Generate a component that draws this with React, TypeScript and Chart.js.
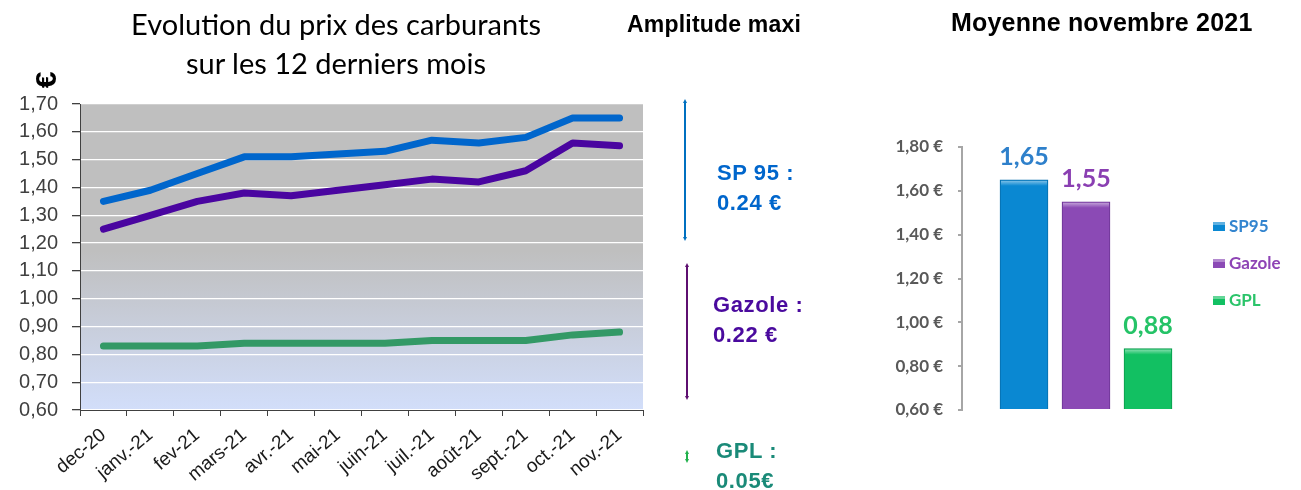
import React, { useEffect, useRef } from 'react';
import { Chart, registerables } from 'chart.js';

Chart.register(...registerables);

// ---------- Data: line chart ----------
const months = ['dec-20', 'janv.-21', 'fev-21', 'mars-21', 'avr.-21', 'mai-21', 'juin-21', 'juil.-21', 'août-21', 'sept.-21', 'oct.-21', 'nov.-21'];
const sp95 = [1.35, 1.39, 1.45, 1.51, 1.51, 1.52, 1.53, 1.57, 1.56, 1.58, 1.65, 1.65];
const gazole = [1.25, 1.30, 1.35, 1.38, 1.37, 1.39, 1.41, 1.43, 1.42, 1.46, 1.56, 1.55];
const gpl = [0.83, 0.83, 0.83, 0.84, 0.84, 0.84, 0.84, 0.85, 0.85, 0.85, 0.87, 0.88];
const lineMin = 0.6;
const lineMax = 1.7;
const lineStep = 0.1;

// ---------- Data: bar chart ----------
const barLabels = ['SP95', 'Gazole', 'GPL'];
const barValues = [1.65, 1.55, 0.88];
const barMin = 0.6;
const barMax = 1.8;
const barStep = 0.2;

// ---------- Amplitude annotations ----------
const ampNames = ['SP 95 :', 'Gazole :', 'GPL :'];
const ampValues = ['0.24 €', '0.22 €', '0.05€'];

const fmt = (v: number) => v.toFixed(2).replace('.', ',');

const plotBg = {
  id: 'plotBg',
  beforeDraw(chart: any) {
    const { ctx, chartArea: a } = chart;
    const g = ctx.createLinearGradient(0, a.top, 0, a.bottom);
    g.addColorStop(0, '#BFBFBF');
    g.addColorStop(0.48, '#BFBFBF');
    g.addColorStop(1, '#D2DEFA');
    ctx.save();
    ctx.fillStyle = g;
    ctx.fillRect(a.left, a.top, a.right - a.left, a.bottom - a.top);
    ctx.restore();
  },
};

const euroUnit = {
  id: 'euroUnit',
  afterDraw(chart: any) {
    const { ctx, chartArea: a } = chart;
    ctx.save();
    ctx.translate(a.left - 32, a.top - 24);
    ctx.rotate(-Math.PI / 2);
    ctx.font = 'bold 30px "Liberation Sans", Arial, sans-serif';
    ctx.fillStyle = '#000';
    ctx.textAlign = 'center';
    ctx.textBaseline = 'middle';
    ctx.fillText('€', 0, 0);
    ctx.restore();
  },
};

const barColors = ['#0A88D2', '#8B4AB5', '#12C062'];
const barBorders = ['#066DAA', '#6A3392', '#0A9A4B'];
const valueColors = ['#2E80CB', '#8A3FB2', '#25C367'];
const legendColors = ['#3385CF', '#8E44B5', '#2BC46A'];

const valueLabels = {
  id: 'valueLabels',
  afterDatasetsDraw(chart: any) {
    const { ctx } = chart;
    ctx.save();
    chart.data.datasets.forEach((ds: any, i: number) => {
      const el = chart.getDatasetMeta(i).data[0];
      if (!el) return;
      // top highlight (bevel look)
      const w = el.width;
      const hl = ctx.createLinearGradient(0, el.y, 0, el.y + 6);
      hl.addColorStop(0, 'rgba(255,255,255,0.55)');
      hl.addColorStop(1, 'rgba(255,255,255,0)');
      ctx.fillStyle = hl;
      ctx.fillRect(el.x - w / 2 + 1, el.y + 1, w - 2, 6);
      ctx.font = 'bold 25px Lato, "Liberation Sans", sans-serif';
      ctx.textAlign = 'center';
      ctx.textBaseline = 'alphabetic';
      ctx.fillStyle = valueColors[i];
      ctx.fillText(fmt(ds.data[0].y), el.x, el.y - 15);
    });
    ctx.restore();
  },
};

const sideLegend = {
  id: 'sideLegend',
  afterDraw(chart: any) {
    const { ctx, chartArea: a } = chart;
    ctx.save();
    ctx.font = 'bold 17px Lato, "Liberation Sans", sans-serif';
    ctx.textBaseline = 'alphabetic';
    ctx.textAlign = 'left';
    chart.data.datasets.forEach((ds: any, i: number) => {
      const y = a.top + 85 + i * 37;
      const x = a.right + 34;
      ctx.fillStyle = barColors[i];
      ctx.fillRect(x, y - 10, 12, 9);
      ctx.fillStyle = 'rgba(255,255,255,0.35)';
      ctx.fillRect(x, y - 10, 12, 3);
      ctx.fillStyle = legendColors[i];
      ctx.fillText(ds.label, x + 16, y);
    });
    ctx.restore();
  },
};

function LineChart() {
  const ref = useRef<HTMLCanvasElement>(null);
  useEffect(() => {
    if (!ref.current) return;
    const chart = new Chart(ref.current, {
      type: 'line',
      data: {
        labels: months,
        datasets: [
          { label: 'SP95', data: sp95, borderColor: '#0066CC' },
          { label: 'Gazole', data: gazole, borderColor: '#4A05A0' },
          { label: 'GPL', data: gpl, borderColor: '#339966' },
        ].map((d) => ({
          ...d,
          borderWidth: 7,
          pointRadius: 0,
          tension: 0,
          borderCapStyle: 'round' as const,
          borderJoinStyle: 'round' as const,
          fill: false,
        })),
      },
      options: {
        responsive: false,
        animation: false,
        events: [],
        layout: { padding: { top: 104, right: 17, left: 0, bottom: 0 } },
        plugins: { legend: { display: false }, tooltip: { enabled: false } },
        scales: {
          x: {
            offset: true,
            afterFit: (s: any) => { s.height = 80; },
            grid: { offset: true, drawOnChartArea: false, tickLength: 6, tickColor: '#404040' },
            border: { color: '#404040', width: 1 },
            ticks: {
              minRotation: 40,
              maxRotation: 40,
              autoSkip: false,
              padding: 8,
              color: '#1a1a1a',
              font: { family: '"Liberation Sans", Arial, sans-serif', size: 19 },
            },
          },
          y: {
            min: lineMin,
            max: lineMax,
            afterFit: (s: any) => { s.width = 80; },
            grid: { color: '#FFFFFF', lineWidth: 1.3, tickLength: 8, tickColor: '#404040' },
            border: { color: '#404040', width: 1 },
            ticks: {
              stepSize: lineStep,
              autoSkip: false,
              padding: 14,
              color: '#404040',
              font: { family: '"Liberation Sans", Arial, sans-serif', size: 20 },
              callback: (v: any) => fmt(Number(v)),
            },
          },
        },
      },
      plugins: [plotBg, euroUnit],
    });
    return () => chart.destroy();
  }, []);
  return <canvas ref={ref} width={660} height={490} style={{ position: 'absolute', left: 0, top: 0 }} />;
}

function BarChart() {
  const ref = useRef<HTMLCanvasElement>(null);
  useEffect(() => {
    if (!ref.current) return;
    const chart = new Chart(ref.current, {
      type: 'bar',
      data: {
        datasets: barLabels.map((label, i) => ({
          label,
          data: [{ x: i + 1, y: barValues[i] }],
          backgroundColor: barColors[i],
          borderColor: barBorders[i],
          borderWidth: 1,
          barThickness: 48,
          grouped: false,
          base: barMin,
        })),
      },
      options: {
        responsive: false,
        animation: false,
        events: [],
        layout: { padding: { top: 147, right: 122, left: 0, bottom: 80 } },
        plugins: { legend: { display: false }, tooltip: { enabled: false } },
        scales: {
          x: { type: 'linear', min: 0, max: 3.5, offset: false, display: false },
          y: {
            min: barMin,
            max: barMax,
            afterFit: (s: any) => { s.width = 102; },
            grid: { drawOnChartArea: false, tickLength: 4, tickColor: '#A6A6A6', lineWidth: 2 },
            border: { color: '#A6A6A6', width: 2 },
            ticks: {
              stepSize: barStep,
              autoSkip: false,
              padding: 15,
              color: '#595959',
              font: { family: 'Lato, "Liberation Sans", sans-serif', size: 17, weight: 'bold' },
              callback: (v: any) => fmt(Number(v)) + ' €',
            },
          },
        },
      },
      plugins: [valueLabels, sideLegend],
    });
    return () => chart.destroy();
  }, []);
  return <canvas ref={ref} width={441} height={490} style={{ position: 'absolute', left: 860, top: 0 }} />;
}

function Annotations() {
  const ampColors = ['#0066CC', '#4A0A9E', '#1A8A78'];
  const lines = [
    { x: 685, y1: 99, y2: 241, c: '#0070C0' },
    { x: 687, y1: 263, y2: 400, c: '#5E0F70' },
    { x: 687, y1: 450, y2: 463, c: '#22B14C' },
  ];
  const nameY = [180, 312, 458];
  const nameX = [717, 713, 716];
  return (
    <svg width={1301} height={490} style={{ position: 'absolute', left: 0, top: 0, pointerEvents: 'none' }}>
      <text x={336} y={35} textAnchor="middle" fontFamily="Lato, 'Open Sans', sans-serif" fontSize={29} fill="#000">
        Evolution du prix des carburants
      </text>
      <text x={336} y={74} textAnchor="middle" fontFamily="Lato, 'Open Sans', sans-serif" fontSize={29} fill="#000">
        sur les 12 derniers mois
      </text>
      <text x={627} y={32} fontFamily="'Liberation Sans', Arial, sans-serif" fontWeight="bold" fontSize={23} letterSpacing={0.2} fill="#000">
        Amplitude maxi
      </text>
      <text x={951} y={31} fontFamily="'Liberation Sans', Arial, sans-serif" fontWeight="bold" fontSize={25} letterSpacing={0.2} fill="#000">
        Moyenne novembre 2021
      </text>
      {lines.map((l, i) => (
        <g key={i}>
          <line x1={l.x} y1={l.y1 + 2} x2={l.x} y2={l.y2 - 2} stroke={l.c} strokeWidth={2} />
          <polygon points={`${l.x - 2},${l.y1 + 4} ${l.x + 2},${l.y1 + 4} ${l.x},${l.y1}`} fill={l.c} />
          <polygon points={`${l.x - 2},${l.y2 - 4} ${l.x + 2},${l.y2 - 4} ${l.x},${l.y2}`} fill={l.c} />
        </g>
      ))}
      {ampNames.map((n, i) => (
        <g key={n}>
          <text x={nameX[i]} y={nameY[i]} fontFamily="'Liberation Sans', Arial, sans-serif" fontWeight="bold" fontSize={22} letterSpacing={0.6} fill={ampColors[i]}>
            {n}
          </text>
          <text x={nameX[i]} y={nameY[i] + 30} fontFamily="'Liberation Sans', Arial, sans-serif" fontWeight="bold" fontSize={22} letterSpacing={0.6} fill={ampColors[i]}>
            {ampValues[i]}
          </text>
        </g>
      ))}
    </svg>
  );
}

export default function App() {
  return (
    <div style={{ position: 'absolute', left: 0, top: 0, width: 1301, height: 490, background: '#fff', overflow: 'hidden' }}>
      <LineChart />
      <BarChart />
      <Annotations />
    </div>
  );
}
